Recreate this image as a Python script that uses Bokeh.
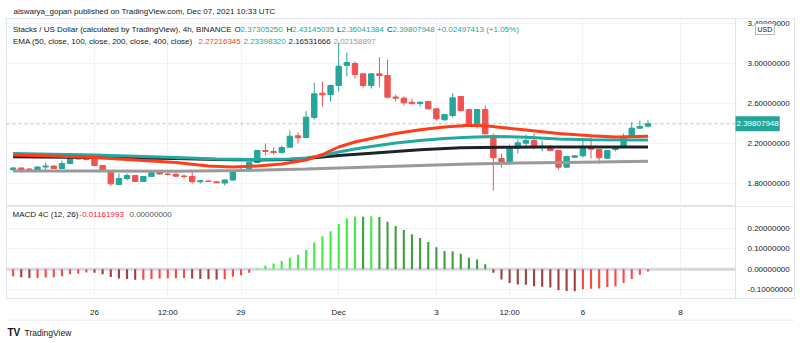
from bokeh.plotting import figure
from bokeh.models import (Range1d, LinearAxis, FixedTicker, PrintfTickFormatter, Span,
                          Label, BoxAnnotation, Grid)
from bokeh.layouts import column
from bokeh.embed import file_html
from bokeh.resources import INLINE

# ---------------- data (4h candles, Nov 24 08:00 -> Dec 07 08:00) ----------------
idx = list(range(79))
opens = [1.940, 1.955, 1.945, 1.930, 1.965, 1.975, 1.950, 2.000, 2.050, 2.050,
         2.045, 1.980, 1.920, 1.790, 1.850, 1.880, 1.820, 1.870, 1.915, 1.895,
         1.893, 1.875, 1.870, 1.818, 1.825, 1.817, 1.805, 1.835, 1.925, 1.935,
         2.010, 2.130, 2.120, 2.110, 2.163, 2.277, 2.260, 2.460, 2.703, 2.690,
         2.780, 2.980, 3.000, 2.897, 2.780, 2.897, 2.880, 2.665, 2.653, 2.613,
         2.600, 2.620, 2.547, 2.437, 2.480, 2.670, 2.540, 2.397, 2.540, 2.280,
         2.050, 2.003, 2.153, 2.203, 2.230, 2.163, 2.173, 2.130, 1.963, 2.063,
         2.077, 2.170, 2.140, 2.053, 2.140, 2.163, 2.270, 2.353, 2.37305250]
highs = [1.965, 1.960, 1.950, 1.970, 2.010, 1.980, 2.030, 2.080, 2.070, 2.070,
         2.050, 1.985, 1.925, 1.900, 1.900, 1.885, 1.875, 1.930, 1.920, 1.905,
         1.900, 1.890, 1.930, 1.835, 1.830, 1.822, 1.840, 1.935, 1.960, 2.015,
         2.135, 2.200, 2.160, 2.180, 2.330, 2.310, 2.523, 2.807, 2.820, 2.790,
         3.210, 3.110, 3.020, 2.900, 2.900, 3.063, 3.040, 2.690, 2.670, 2.650,
         2.620, 2.625, 2.550, 2.495, 2.703, 2.675, 2.545, 2.545, 2.580, 2.300,
         2.100, 2.190, 2.240, 2.290, 2.300, 2.230, 2.180, 2.135, 2.080, 2.085,
         2.250, 2.263, 2.145, 2.135, 2.175, 2.300, 2.413, 2.430, 2.43145035]
lows = [1.925, 1.910, 1.925, 1.925, 1.930, 1.945, 1.945, 1.990, 2.040, 2.030,
        1.975, 1.915, 1.777, 1.785, 1.830, 1.815, 1.815, 1.865, 1.890, 1.880,
        1.865, 1.850, 1.800, 1.800, 1.815, 1.805, 1.780, 1.830, 1.920, 1.930,
        2.005, 2.080, 2.090, 2.100, 2.160, 2.200, 2.250, 2.440, 2.570, 2.620,
        2.720, 2.870, 2.850, 2.760, 2.750, 2.763, 2.650, 2.620, 2.580, 2.595,
        2.570, 2.540, 2.430, 2.430, 2.460, 2.520, 2.385, 2.350, 2.290, 1.730,
        1.960, 1.990, 2.100, 2.150, 2.140, 2.120, 2.120, 1.940, 1.960, 2.055,
        2.060, 2.050, 2.000, 2.045, 2.120, 2.160, 2.265, 2.345, 2.36041384]
closes = [1.955, 1.940, 1.930, 1.965, 1.975, 1.950, 2.000, 2.050, 2.045, 2.040,
          1.980, 1.920, 1.797, 1.850, 1.880, 1.820, 1.870, 1.910, 1.895, 1.890,
          1.873, 1.870, 1.817, 1.828, 1.820, 1.807, 1.835, 1.930, 1.935, 2.010,
          2.130, 2.120, 2.110, 2.160, 2.273, 2.257, 2.463, 2.697, 2.687, 2.780,
          2.973, 3.010, 2.890, 2.780, 2.897, 2.880, 2.663, 2.653, 2.607, 2.597,
          2.613, 2.547, 2.447, 2.490, 2.657, 2.530, 2.397, 2.540, 2.297, 2.057,
          2.003, 2.153, 2.207, 2.230, 2.163, 2.173, 2.130, 1.963, 2.070, 2.077,
          2.170, 2.143, 2.057, 2.130, 2.163, 2.270, 2.353, 2.370, 2.39807948]

ema50_x = [0, 5, 10, 15, 20, 24, 27, 30, 33, 36, 38, 40, 42, 44, 47, 50, 53, 56, 58, 60, 63, 67, 71, 74, 78]
ema50 = [2.085, 2.075, 2.060, 2.035, 2.010, 1.975, 1.965, 1.975, 1.995, 2.035, 2.090, 2.165, 2.215, 2.250,
         2.300, 2.337, 2.365, 2.382, 2.378, 2.360, 2.335, 2.300, 2.277, 2.265, 2.272]
ema100_x = [0, 10, 20, 25, 30, 34, 36, 38, 40, 42, 44, 47, 50, 53, 56, 59, 63, 67, 71, 78]
ema100 = [2.100, 2.085, 2.060, 2.045, 2.040, 2.045, 2.055, 2.080, 2.115, 2.145, 2.170, 2.205, 2.230,
          2.250, 2.263, 2.270, 2.263, 2.245, 2.237, 2.234]
ema200_x = [0, 10, 20, 25, 30, 34, 36, 38, 40, 44, 50, 55, 60, 65, 78]
ema200 = [2.067, 2.060, 2.050, 2.040, 2.035, 2.040, 2.050, 2.065, 2.080, 2.103, 2.137, 2.157, 2.163, 2.165, 2.165]
ema400_x = [0, 10, 20, 28, 36, 44, 50, 56, 62, 70, 78]
ema400 = [1.925, 1.925, 1.922, 1.930, 1.945, 1.965, 1.980, 1.995, 2.005, 2.013, 2.022]

macd = [-0.035, -0.040, -0.043, -0.043, -0.041, -0.040, -0.035, -0.025, -0.022, -0.016,
        -0.017, -0.025, -0.038, -0.046, -0.048, -0.052, -0.052, -0.048, -0.046, -0.044,
        -0.044, -0.043, -0.046, -0.048, -0.049, -0.051, -0.049, -0.037, -0.030, -0.017,
        0.003, 0.017, 0.028, 0.040, 0.056, 0.070, 0.093, 0.130, 0.160, 0.184,
        0.220, 0.248, 0.256, 0.255, 0.257, 0.254, 0.231, 0.210, 0.190, 0.170,
        0.151, 0.132, 0.107, 0.088, 0.087, 0.075, 0.055, 0.047, 0.024, -0.017,
        -0.051, -0.067, -0.075, -0.076, -0.083, -0.086, -0.089, -0.103, -0.106, -0.108,
        -0.098, -0.095, -0.094, -0.087, -0.083, -0.067, -0.048, -0.027, -0.01161993]

time_ticks = [10, 19, 28, 40, 52, 61, 70, 82]
time_labels = ["26", "12:00", "29", "Dec", "3", "12:00", "6", "8"]
price_ticks = [1.8, 2.2, 2.6, 3.0, 3.4]
macd_ticks = [-0.1, 0.0, 0.1, 0.2]

# ---------------- styles / layout constants ----------------
FONT = "Liberation Sans"
FS = "8px"
TXT = "#131722"
UP = "#26A69A"
DN = "#EF5350"
GRID = "#f0f2f6"
BORDER = "#e0e3eb"
C50, C100, C200, C400 = "#FF3D1A", "#22A9A0", "#1E222D", "#9A9A9A"
LIME, GREEN, RED, MAROON = "#40EE40", "#40A040", "#FF4545", "#A04040"

PX_PER_BAR = 8.14
X0 = -0.81
FRAME_W = 788                     # frame spans page x 6 .. 794
SCALE_PX = 729                    # price-scale strip begins 729 px into the frame (page x 735)
xr = Range1d(X0, X0 + FRAME_W / PX_PER_BAR)
x_split = X0 + SCALE_PX / PX_PER_BAR


def clear_grids(fig):
    fig.center = [c for c in fig.center if not isinstance(c, Grid)]


def lab(fig, fl, fb, px, py, text, color=TXT, size=FS, **kw):
    """Label placed at page pixel (px, py); fl/fb = page x of frame left, page y of frame bottom."""
    fig.add_layout(Label(x=px - fl, y=fb - py, x_units="screen", y_units="screen", text=text,
                         text_color=color, text_font=FONT, text_font_size=size,
                         text_baseline="middle", text_align="left", **kw))


def common(**kw):
    return dict(output_backend="svg", toolbar_location=None,
                x_axis_location=None, y_axis_location=None, **kw)


# ---------------- header strip ----------------
ph = figure(width=800, height=18, x_range=Range1d(0, 800), y_range=Range1d(0, 18),
            min_border=0, **common())
clear_grids(ph)
ph.outline_line_color = None
lab(ph, 0, 18, 7, 11, "aiswarya_gopan published on TradingView.com, Dec 07, 2021 10:33 UTC")

# ---------------- main pane ----------------
pm = figure(width=800, height=188, x_range=xr, y_range=Range1d(1.57, 3.45),
            min_border_left=6, min_border_right=6, min_border_top=0, min_border_bottom=0,
            **common())
clear_grids(pm)
pm.outline_line_color = BORDER
pm.add_layout(Grid(dimension=0, ticker=FixedTicker(ticks=time_ticks), grid_line_color=GRID))
pm.add_layout(Grid(dimension=1, ticker=FixedTicker(ticks=price_ticks), grid_line_color=GRID))
pm.add_layout(Span(location=closes[-1], dimension="width", line_color=UP, line_alpha=0.5,
                   line_dash="3 3", line_width=1, level="underlay"))
pm.add_layout(BoxAnnotation(left=x_split, fill_color="white", fill_alpha=1, line_color=None,
                            level="underlay"))

ya = LinearAxis(ticker=FixedTicker(ticks=price_ticks), formatter=PrintfTickFormatter(format="%.8f"),
                axis_line_color=BORDER, major_tick_line_color=None, minor_tick_line_color=None,
                major_label_text_font=FONT, major_label_text_font_size=FS,
                major_label_text_color=TXT, major_label_standoff=-53)
pm.add_layout(ya, "right")

ccol = [UP if c >= o else DN for o, c in zip(opens, closes)]
btop = [max(o, c) for o, c in zip(opens, closes)]
bbot = [min(o, c) for o, c in zip(opens, closes)]
pm.segment(x0=idx, y0=lows, x1=idx, y1=highs, color=ccol, line_width=1)
pm.vbar(x=idx, width=0.66, top=btop, bottom=bbot, fill_color=ccol, line_color=ccol, line_width=1)

pm.line(ema400_x, ema400, line_color=C400, line_width=3)
pm.line(ema200_x, ema200, line_color=C200, line_width=3)
pm.line(ema100_x, ema100, line_color=C100, line_width=3)
pm.line(ema50_x, ema50, line_color=C50, line_width=3)

pm.add_layout(Span(location=x_split, dimension="height", line_color=BORDER, line_width=1))

MF_L, MF_B = 6, 206
lab(pm, MF_L, MF_B, 12.5, 29, "Stacks / US Dollar (calculated by TradingView), 4h, BINANCE")
lab(pm, MF_L, MF_B, 234, 29, "O")
lab(pm, MF_L, MF_B, 240, 29, "2.37305250", UP)
lab(pm, MF_L, MF_B, 286, 29, "H")
lab(pm, MF_L, MF_B, 291.5, 29, "2.43145035", UP)
lab(pm, MF_L, MF_B, 336.5, 29, "L")
lab(pm, MF_L, MF_B, 341, 29, "2.36041384", UP)
lab(pm, MF_L, MF_B, 386.5, 29, "C")
lab(pm, MF_L, MF_B, 392, 29, "2.39807948 +0.02497413 (+1.05%)", UP)
lab(pm, MF_L, MF_B, 12.5, 41, "EMA (50, close, 100, close, 200, close, 400, close)")
lab(pm, MF_L, MF_B, 198, 41, "2.27216345", C50)
lab(pm, MF_L, MF_B, 243, 41, "2.23398320", C100)
lab(pm, MF_L, MF_B, 288, 41, "2.16531666", C200)
lab(pm, MF_L, MF_B, 333, 41, "2.02158897", C400)

pm.add_layout(Label(x=SCALE_PX, x_units="screen", y=closes[-1], y_units="data",
                    text=f"{closes[-1]:.8f}", text_color="white", text_font=FONT,
                    text_font_size=FS, text_baseline="middle", text_align="left",
                    background_fill_color=UP, padding=(1, 5)))
lab(pm, MF_L, MF_B, 755, 28.5, "USD", size="7px", background_fill_color="white",
    border_line_color="#b2b5be", padding=2)

# ---------------- MACD pane ----------------
pd_ = figure(width=800, height=113, x_range=xr, y_range=Range1d(-0.1429, 0.3048),
             min_border_left=6, min_border_right=6, min_border_top=0, min_border_bottom=19,
             **common())
clear_grids(pd_)
pd_.outline_line_color = BORDER
pd_.add_layout(Grid(dimension=0, ticker=FixedTicker(ticks=time_ticks), grid_line_color=GRID))
pd_.add_layout(Grid(dimension=1, ticker=FixedTicker(ticks=[-0.1, 0.1, 0.2]), grid_line_color=GRID))
pd_.add_layout(Span(location=0, dimension="width", line_color="#d6d8de", line_width=3, level="underlay"))
pd_.add_layout(BoxAnnotation(left=x_split, fill_color="white", fill_alpha=1, line_color=None,
                             level="underlay"))

xa = LinearAxis(ticker=FixedTicker(ticks=time_ticks),
                major_label_overrides={t: l for t, l in zip(time_ticks, time_labels)},
                axis_line_color=BORDER, major_tick_line_color=None, minor_tick_line_color=None,
                major_label_text_font=FONT, major_label_text_font_size=FS,
                major_label_text_color=TXT, major_label_standoff=3)
pd_.add_layout(xa, "below")
ya2 = LinearAxis(ticker=FixedTicker(ticks=macd_ticks), formatter=PrintfTickFormatter(format="%.8f"),
                 axis_line_color=BORDER, major_tick_line_color=None, minor_tick_line_color=None,
                 major_label_text_font=FONT, major_label_text_font_size=FS,
                 major_label_text_color=TXT, major_label_standoff=-53)
pd_.add_layout(ya2, "right")

mcol = []
for i, m in enumerate(macd):
    prev = macd[i - 1] if i > 0 else m
    if m >= 0:
        mcol.append(LIME if m > prev else GREEN)
    else:
        mcol.append(MAROON if m < prev else RED)
pd_.vbar(x=idx, width=0.26, top=macd, bottom=0, fill_color=mcol, line_color=None)
pd_.add_layout(Span(location=x_split, dimension="height", line_color=BORDER, line_width=1))

DF_L, DF_B = 6, 300
lab(pd_, DF_L, DF_B, 12, 216, "MACD 4C (12, 26)")
lab(pd_, DF_L, DF_B, 79, 216, "-0.01161993", "#FF2020")
lab(pd_, DF_L, DF_B, 129, 216, "0.00000000", "#555555")

# ---------------- footer strip ----------------
pf = figure(width=800, height=24, x_range=Range1d(0, 788), y_range=Range1d(0, 24),
            min_border_left=6, min_border_right=6, min_border_top=0, min_border_bottom=0,
            **common())
clear_grids(pf)
pf.outline_line_color = None
pf.add_layout(Span(location=23.5, dimension="width", line_color=BORDER, line_width=1))
lab(pf, 6, 343, 7, 332, "TV", size="10px", text_font_style="bold")
lab(pf, 6, 343, 24, 332, "TradingView", size="8.5px")

layout = column(ph, pm, pd_, pf, spacing=0)
open("out.html", "w").write(file_html(layout, INLINE))
